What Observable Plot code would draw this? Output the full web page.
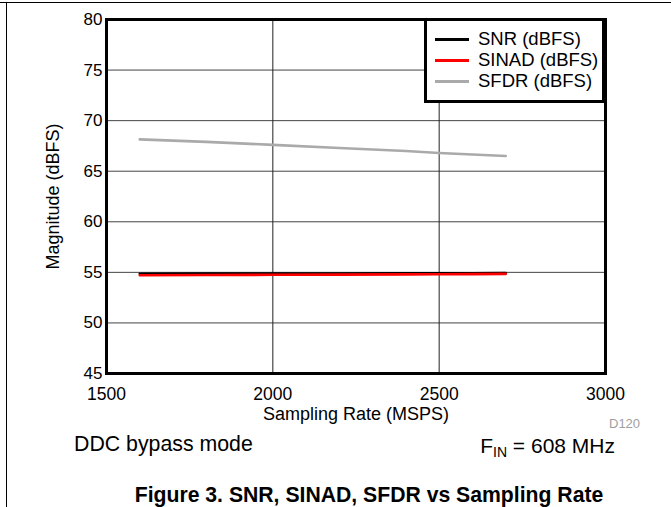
<!DOCTYPE html>
<html>
<head>
<meta charset="utf-8">
<script src="https://cdn.jsdelivr.net/npm/d3@7"></script>
<script src="https://cdn.jsdelivr.net/npm/@observablehq/plot@0.6"></script>
<style>
  html, body { margin: 0; padding: 0; background: #fff; }
  body { font-family: "Liberation Sans", Arial, sans-serif; }
  #wrap { position: relative; width: 671px; height: 507px; overflow: hidden; background: #fff; }
  #chart { position: absolute; left: 0; top: 0; }
  .abs { position: absolute; white-space: nowrap; line-height: 1; }
  #legend { position: absolute; left: 424px; top: 18px; width: 181px; height: 85px; box-sizing: border-box;
            border: 3px solid #000; background: #fff; }
  .row { position: absolute; left: 0; height: 20px; }
  .sw { position: absolute; left: 8px; width: 34px; height: 3px; top: 9px; }
  .lt { position: absolute; left: 51px; top: 0; font-size: 18.5px; line-height: 20px; }
</style>
</head>
<body>
<div id="wrap">
  <div id="chart"></div>
</div>
<script>
// ---- data ----
const seriesNames = ["SNR (dBFS)", "SINAD (dBFS)", "SFDR (dBFS)"];
const seriesColors = ["#000000", "#ff0000", "#aaaaaa"];
const rate = [1600, 1800, 2000, 2200, 2400, 2500, 2600, 2700];
const snr   = [54.86, 54.87, 54.88, 54.89, 54.9, 54.9, 54.91, 54.92];
const sinad = [54.72, 54.74, 54.76, 54.78, 54.8, 54.81, 54.83, 54.85];
const sfdr  = [68.15, 67.9, 67.6, 67.3, 67.0, 66.8, 66.65, 66.5];
const xTicks = [1500, 2000, 2500, 3000];
const yTicks = [45, 50, 55, 60, 65, 70, 75, 80];
const xGrid = [2000, 2500];
const yGrid = [50, 55, 60, 65, 70, 75];

const rows = [];
rate.forEach((r, i) => {
  rows.push({rate: r, value: sfdr[i], series: seriesNames[2]});
  rows.push({rate: r, value: snr[i], series: seriesNames[0]});
  rows.push({rate: r, value: sinad[i], series: seriesNames[1]});
});
const order = [seriesNames[2], seriesNames[0], seriesNames[1]];

const plot = Plot.plot({
  width: 671,
  height: 430,
  marginLeft: 106,
  marginRight: 66,
  marginTop: 19,
  marginBottom: 57,
  style: {fontFamily: "'Liberation Sans', Arial, sans-serif", fontSize: "17px", color: "#000", background: "transparent", overflow: "visible"},
  x: {domain: [1500, 3000]},
  y: {domain: [45, 80]},
  color: {domain: seriesNames, range: seriesColors},
  marks: [
    Plot.gridY(yGrid, {stroke: "#444", strokeOpacity: 1, strokeWidth: 1}),
    Plot.gridX(xGrid, {stroke: "#222", strokeOpacity: 1, strokeWidth: 1}),
    ...order.map(s => Plot.line(rows.filter(d => d.series === s), {x: "rate", y: "value", stroke: "series", strokeWidth: 2.6})),
    Plot.frame({stroke: "#000", strokeWidth: 3}),
    Plot.axisX({ticks: xTicks, tickSize: 0, tickPadding: 14, label: null, fontSize: 17.5, tickFormat: d => String(d)}),
    Plot.axisY({ticks: yTicks, tickSize: 0, tickPadding: 4, label: null, fontSize: 17}),
    Plot.text(["Sampling Rate (MSPS)"], {frameAnchor: "bottom", dy: 41, lineAnchor: "middle", textAnchor: "middle", fontSize: 18, text: d => d}),
    Plot.text(["Magnitude (dBFS)"], {frameAnchor: "left", dx: -53, rotate: -90, textAnchor: "middle", lineAnchor: "middle", fontSize: 18, text: d => d})
  ]
});
document.getElementById("chart").appendChild(plot);

const wrap = document.getElementById("wrap");
function add(html, css) {
  const el = document.createElement("div");
  el.className = "abs";
  el.innerHTML = html;
  Object.assign(el.style, css);
  wrap.appendChild(el);
  return el;
}
// outer page frame lines
add("", {left: "0px", top: "2px", width: "671px", height: "1px", background: "#000"});
add("", {left: "6px", top: "2px", width: "1px", height: "505px", background: "#000"});

// legend
const lg = document.createElement("div");
lg.id = "legend";
seriesNames.forEach((n, i) => {
  const r = document.createElement("div");
  r.className = "row";
  r.style.top = (8 + i * 21) + "px";
  r.style.width = "100%";
  r.innerHTML = `<div class="sw" style="background:${seriesColors[i]}"></div><div class="lt">${n}</div>`;
  lg.appendChild(r);
});
wrap.appendChild(lg);

add("D120", {left: "609px", top: "417px", fontSize: "13px", color: "#a0a0a0"});
add("DDC bypass mode", {left: "74px", top: "434px", fontSize: "21.3px"});
add("F<sub style='font-size:14px;vertical-align:-4px'>IN</sub> = 608 MHz", {right: "56px", top: "435px", fontSize: "21px"});
add("Figure 3. SNR, SINAD, SFDR vs Sampling Rate", {left: "0px", width: "738px", textAlign: "center", top: "484px", fontSize: "21.2px", fontWeight: "bold"});
</script>
</body>
</html>
